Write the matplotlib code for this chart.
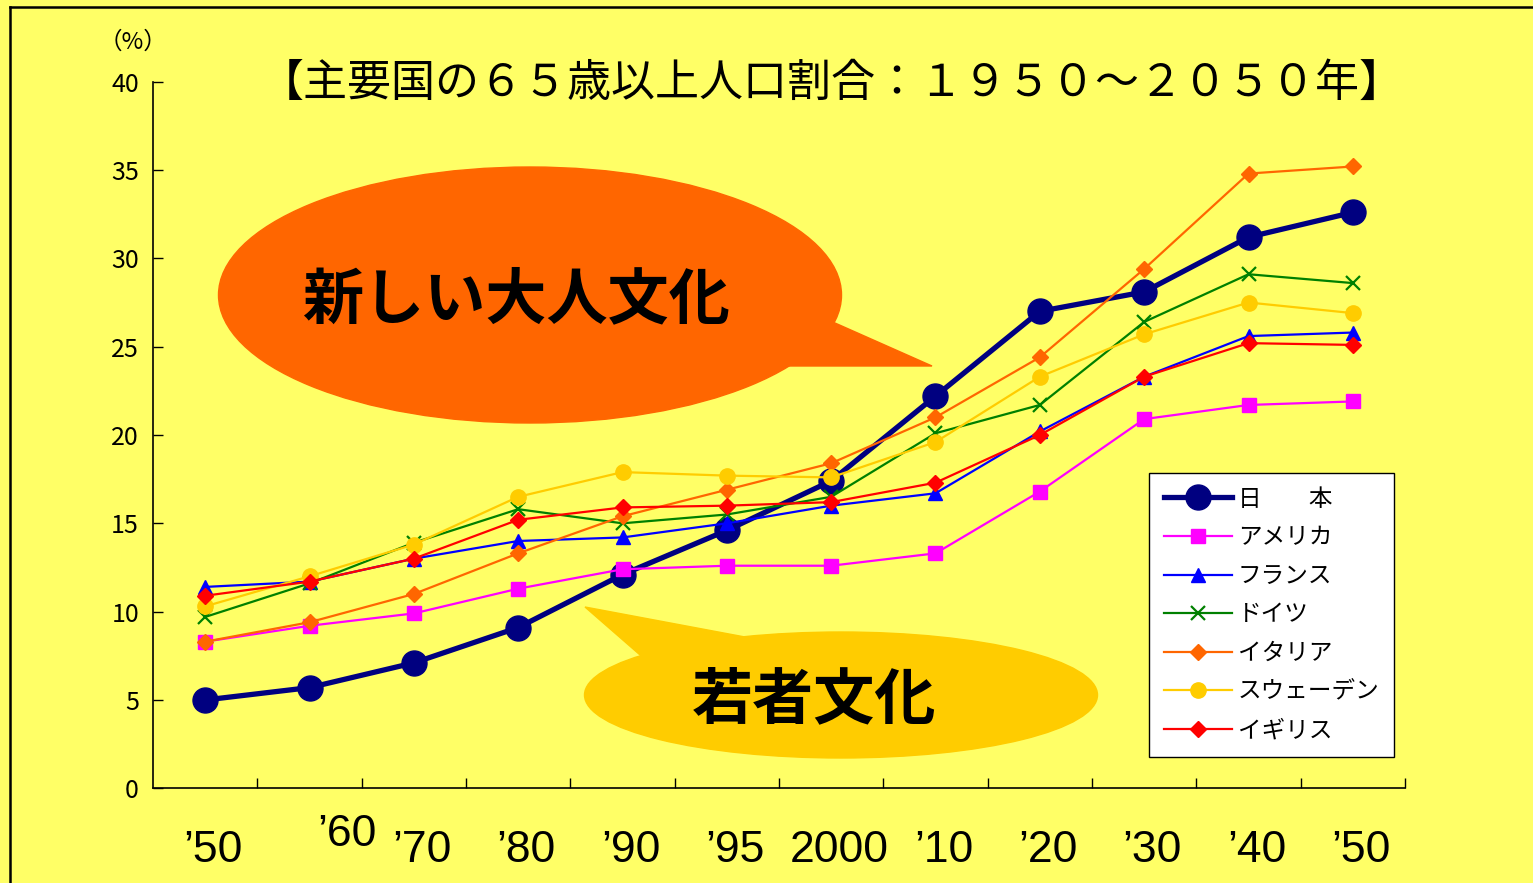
import matplotlib
matplotlib.use("Agg")
import matplotlib.pyplot as plt
from matplotlib.patches import Ellipse, Polygon
from matplotlib.lines import Line2D

plt.rcParams['font.family'] = ['Noto Sans CJK JP', 'DejaVu Sans']

W = 1533
H = 883

# data (65歳以上人口割合, %)
years = ["’50", "’60", "’70", "’80", "’90", "’95", "2000", "’10", "’20", "’30", "’40", "’50"]
japan = [5.0, 5.7, 7.1, 9.1, 12.1, 14.6, 17.4, 22.2, 27.0, 28.1, 31.2, 32.6]
usa = [8.3, 9.2, 9.9, 11.3, 12.4, 12.6, 12.6, 13.3, 16.8, 20.9, 21.7, 21.9]
france = [11.4, 11.7, 13.0, 14.0, 14.2, 15.0, 16.0, 16.7, 20.2, 23.3, 25.6, 25.8]
germany = [9.7, 11.6, 13.9, 15.8, 15.0, 15.5, 16.5, 20.1, 21.7, 26.4, 29.1, 28.6]
italy = [8.3, 9.4, 11.0, 13.3, 15.4, 16.9, 18.4, 21.0, 24.4, 29.4, 34.8, 35.2]
sweden = [10.3, 12.0, 13.8, 16.5, 17.9, 17.7, 17.6, 19.6, 23.3, 25.7, 27.5, 26.9]
uk = [10.9, 11.7, 13.0, 15.2, 15.9, 16.0, 16.2, 17.3, 20.0, 23.3, 25.2, 25.1]

names = ["日　　本", "アメリカ", "フランス", "ドイツ", "イタリア", "スウェーデン", "イギリス"]
series = [japan, usa, france, germany, italy, sweden, uk]

styles = [
    dict(color='#000080', marker='o', ms=18, lw=3.8),
    dict(color='#FF00FF', marker='s', ms=10, lw=1.6),
    dict(color='#0000FF', marker='^', ms=10, lw=1.6),
    dict(color='#008000', marker='x', ms=10, lw=1.6, mew=1.6),
    dict(color='#FF6600', marker='D', ms=8.5, lw=1.6),
    dict(color='#FFCC00', marker='o', ms=11, lw=1.6),
    dict(color='#FF0000', marker='D', ms=8.5, lw=1.6),
]


def fx(px):
    return px / W


def fy(py):
    return 1 - py / H


fig = plt.figure(figsize=(W / 100, H / 100), dpi=100, facecolor='#FFFF66')

# frame lines at top/left
fig.add_artist(Line2D([fx(10), fx(10)], [fy(7), 0], color='black', lw=1.8, transform=fig.transFigure))
fig.add_artist(Line2D([fx(10), 1], [fy(7), fy(7)], color='black', lw=1.8, transform=fig.transFigure))

ax = fig.add_axes([fx(153), fy(788.3), (1405 - 153) / W, (788.3 - 81.7) / H])
ax.set_facecolor('none')

x = list(range(len(years)))
for vals, name, st in zip(series, names, styles):
    ax.plot(x, vals, label=name, **st)

ax.set_xlim(-0.5, len(years) - 0.5)
ax.set_ylim(0, 40)
ax.set_yticks(range(0, 41, 5))
ax.tick_params(axis='y', direction='in', length=7, width=1, labelsize=18, pad=10)
ax.set_xticks([i + 0.5 for i in x])
ax.set_xticklabels([])
ax.tick_params(axis='x', direction='in', length=7, width=1)
for s in ['top', 'right']:
    ax.spines[s].set_visible(False)
for s in ['left', 'bottom']:
    ax.spines[s].set_linewidth(1.2)

# x labels
offsets = [(8, 0)] * len(years)
offsets[1] = (37, 16)
for i, (lab, (dx, dy)) in enumerate(zip(years, offsets)):
    ax.annotate(lab, (i, 0), xycoords=('data', 'axes fraction'),
                xytext=(dx * 0.72, (-62 + dy) * 0.72), textcoords='offset points',
                ha='center', va='center', fontsize=32,
                family=['Liberation Sans Narrow', 'Liberation Sans', 'DejaVu Sans'])

fig.text(fx(133), fy(42), "（%）", ha='center', va='center', fontsize=17)

fig.text(fx(832), fy(83), "【主要国の６５歳以上人口割合：１９５０～２０５０年】",
         ha='center', va='center', fontsize=31.7)

# speech bubbles
orange = '#FF6600'
fig.add_artist(Ellipse((fx(530), fy(295)), 623 / W, 256 / H, color=orange,
                       transform=fig.transFigure, zorder=1))
fig.add_artist(Polygon([(fx(835), fy(323)), (fx(932), fy(366)), (fx(787), fy(366)), (fx(760), fy(330))],
                       closed=True, color=orange, transform=fig.transFigure, zorder=1))
fig.text(fx(516), fy(300), "新しい大人文化", ha='center', va='center',
         fontsize=44, fontweight='bold', zorder=2)

gold = '#FFCC00'
fig.add_artist(Ellipse((fx(841), fy(695)), 513 / W, 126 / H, color=gold,
                       transform=fig.transFigure, zorder=1))
fig.add_artist(Polygon([(fx(585), fy(607)), (fx(745), fy(637)), (fx(655), fy(668))],
                       closed=True, color=gold, transform=fig.transFigure, zorder=1))
fig.text(fx(814), fy(700), "若者文化", ha='center', va='center',
         fontsize=44, fontweight='bold', zorder=2)

ax.set_zorder(3)

leg = ax.legend(loc='upper left', bbox_to_anchor=(fx(1149), fy(473)),
                bbox_transform=fig.transFigure, fontsize=17, frameon=True,
                fancybox=False, framealpha=1, edgecolor='black', facecolor='white',
                handlelength=2.9, handletextpad=0.25, labelspacing=0.66,
                borderpad=0.62, borderaxespad=0)
leg.get_frame().set_linewidth(1.0)

fig.savefig('out.png', dpi=100, facecolor=fig.get_facecolor())
